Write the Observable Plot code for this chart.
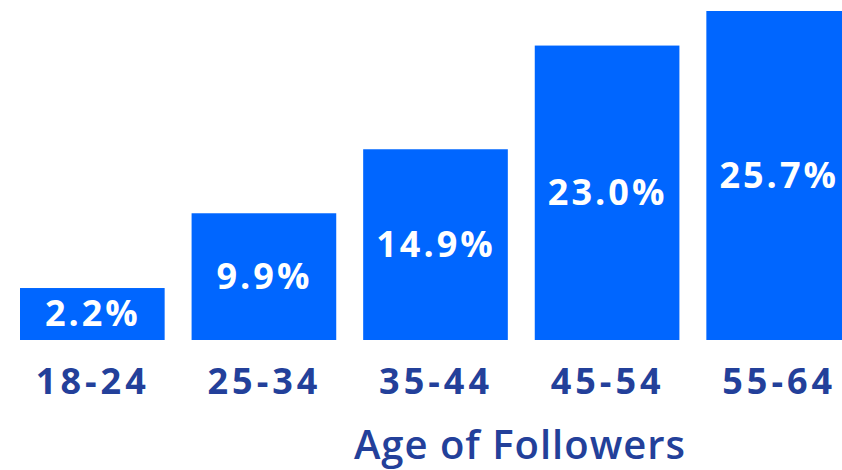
<!DOCTYPE html>
<html>
<head>
<meta charset="utf-8">
<script src="https://cdn.jsdelivr.net/npm/d3@7"></script>
<script src="https://cdn.jsdelivr.net/npm/@observablehq/plot@0.6"></script>
<style>
  html, body { margin: 0; padding: 0; background: #fff; overflow: hidden; width: 842px; height: 470px; }
  #chart { position: relative; width: 842px; height: 470px; overflow: hidden; }
  #chart svg { max-width: none !important; }
  #xlabel { position: absolute; left: 0; top: 424px; width: 1040px; text-align: center;
    font-family: "Open Sans", sans-serif; font-weight: 600; font-size: 40px; letter-spacing: 1px; color: #23409A; line-height: 1; }
</style>
</head>
<body>
<div id="chart"></div>
<script>
const ageGroups = ["18-24", "25-34", "35-44", "45-54", "55-64"];
const shares = [2.2, 9.9, 14.9, 23.0, 25.7];
const minBarShare = 4.06; // bars are drawn at least this tall so labels fit

const data = ageGroups.map((g, i) => ({ group: g, value: shares[i], shown: Math.max(shares[i], minBarShare) }));

const chart = Plot.plot({
  width: 851,
  height: 410,
  marginLeft: 20,
  marginRight: 0,
  marginTop: 11,
  marginBottom: 70,
  style: { fontFamily: "Open Sans, sans-serif", background: "transparent", overflow: "visible", maxWidth: "none" },
  x: { domain: ageGroups, paddingInner: 0.157, paddingOuter: 0, round: false, label: null },
  y: { domain: [0, 25.7], axis: null },
  marks: [
    Plot.barY(data, { x: "group", y1: 0, y2: "shown", fill: "#0066FF" }),
    Plot.text(data, {
      x: "group", y: d => d.shown / 2, text: d => d.value.toFixed(1) + "%",
      fill: "white", fontSize: 36, fontWeight: 700, lineAnchor: "middle"
    }),
    Plot.axisX({ tickSize: 0, tickPadding: 28, fontSize: 36, fontWeight: 700, fill: "#23409A", label: null })
  ]
});
d3.select(chart).selectAll("[aria-label='x-axis tick label'] text").style("letter-spacing", "4px");
d3.select(chart).selectAll("[aria-label='text'] text").style("letter-spacing", "3px");
document.getElementById("chart").appendChild(chart);
const lab = document.createElement("div");
lab.id = "xlabel";
lab.textContent = "Age of Followers";
document.getElementById("chart").appendChild(lab);
</script>
</body>
</html>
